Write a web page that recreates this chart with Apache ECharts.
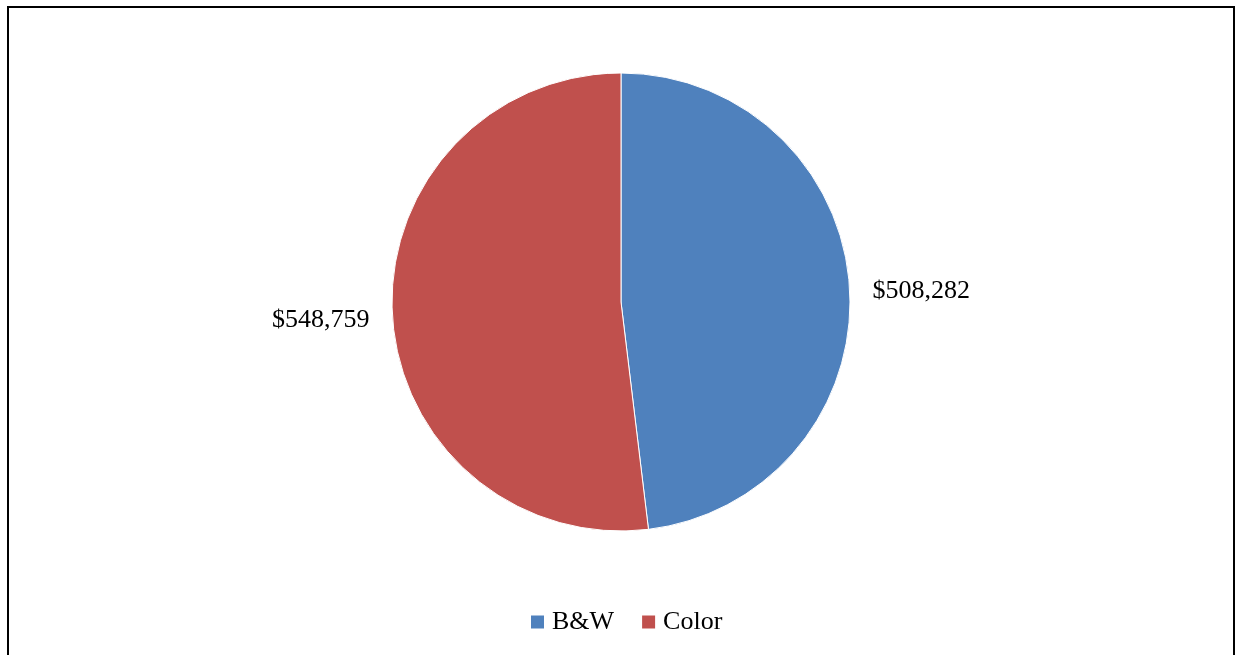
<!DOCTYPE html>
<html><head><meta charset="utf-8">
<script src="https://cdn.jsdelivr.net/npm/echarts@6/dist/echarts.min.js"></script>
<style>html,body{margin:0;padding:0;background:#fff}#c{width:1236px;height:655px}</style>
</head><body><div id="c"></div>
<script>
const categories = ["B&W", "Color"];
const values = [508282, 548759];
const colors = ["#4F81BD", "#C0504D"];

const chart = echarts.init(document.getElementById('c'));
const fmt = v => '$' + v.toLocaleString('en-US');
chart.setOption({
  animation: false,
  textStyle: { fontFamily: 'Liberation Serif' },
  graphic: [{
    type: 'rect', shape: { x: 8, y: 7, width: 1226, height: 670 },
    style: { fill: 'none', stroke: '#000', lineWidth: 2 }, silent: true
  }],
  legend: {
    bottom: 15, left: 524, itemWidth: 15, itemHeight: 15, itemGap: 26,
    icon: 'rect',
    textStyle: { fontFamily: 'Liberation Serif', fontSize: 26, color: '#000', padding: [0, 0, 0, 2] },
    data: categories
  },
  series: [{
    type: 'pie', center: [621, 302], radius: 229, startAngle: 90, clockwise: true,
    itemStyle: { borderColor: '#fff', borderWidth: 1 },
    label: {
      show: true, position: 'outside', formatter: p => fmt(p.value),
      fontFamily: 'Liberation Serif', fontSize: 26, color: '#000'
    },
    labelLayout: { dy: 4 },
    labelLine: { show: false, length: 10, length2: 8 },
    data: categories.map((c, i) => ({ name: c, value: values[i], itemStyle: { color: colors[i] } }))
  }]
});
</script></body></html>
